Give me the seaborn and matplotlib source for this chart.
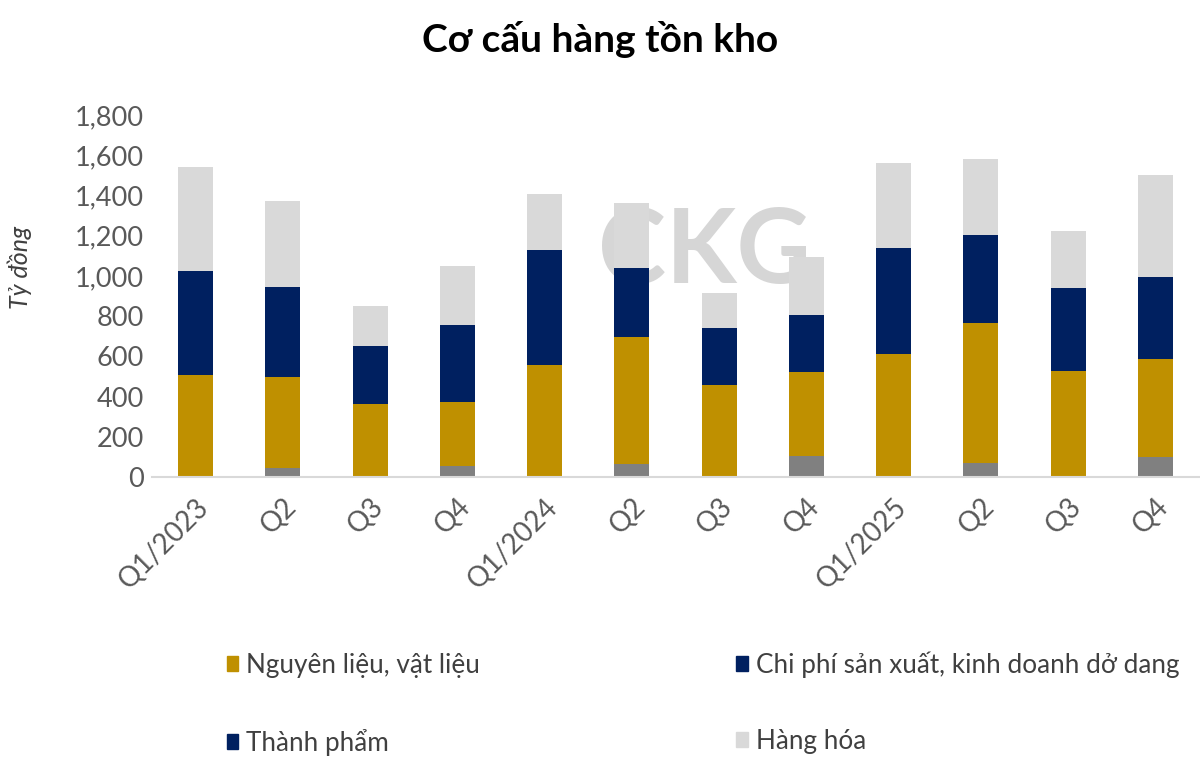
import matplotlib
matplotlib.use("Agg")
import matplotlib.pyplot as plt
from matplotlib.patches import Patch
import seaborn as sns
import pandas as pd

# Data (ty dong)
quarters = ["Q1/2023", "Q2/2023", "Q3/2023", "Q4/2023",
            "Q1/2024", "Q2/2024", "Q3/2024", "Q4/2024",
            "Q1/2025", "Q2/2025", "Q3/2025", "Q4/2025"]
tick_labels = ["Q1/2023", "Q2", "Q3", "Q4", "Q1/2024", "Q2", "Q3", "Q4",
               "Q1/2025", "Q2", "Q3", "Q4"]
chi_phi_sx = [0, 47, 0, 53, 0, 66, 0, 103, 0, 71, 0, 100]
nguyen_lieu = [507, 452, 361, 322, 557, 629, 457, 418, 610, 693, 527, 487]
thanh_pham = [517, 444, 292, 381, 570, 344, 284, 285, 529, 438, 411, 408]
hang_hoa = [519, 429, 199, 295, 279, 322, 174, 290, 421, 379, 285, 508]

df = pd.DataFrame({"quarter": quarters, "chi_phi": chi_phi_sx,
                   "nguyen_lieu": nguyen_lieu, "thanh_pham": thanh_pham,
                   "hang_hoa": hang_hoa})
# cumulative tops for stacking
df["top_gold"] = df["chi_phi"] + df["nguyen_lieu"]
df["top_navy"] = df["top_gold"] + df["thanh_pham"]
df["top_total"] = df["top_navy"] + df["hang_hoa"]

GOLD = "#BF9000"
NAVY = "#002060"
LIGHT = "#D9D9D9"
DARK = "#808080"
TXT = "#595959"

sns.set_theme(style="white")
plt.rcParams["font.family"] = ["Lato", "DejaVu Sans"]

fig = plt.figure(figsize=(12, 7.6), dpi=100)
ax = fig.add_axes([0.1267, 0.3724, 0.8725, 0.4763])

# watermark
ax.text(0.528, 0.62, "CKG", transform=ax.transAxes, fontsize=74, fontweight="bold",
        color="#D6D6D6", ha="center", va="center", zorder=0)

layers = [("top_total", LIGHT), ("top_navy", NAVY), ("top_gold", GOLD), ("chi_phi", DARK)]
for col, color in layers:
    sns.barplot(data=df, x="quarter", y=col, color=color, width=0.4,
                saturation=1, linewidth=0, ax=ax, zorder=2)

ax.set_ylim(0, 1800)
ax.set_xlim(-0.5, 11.5)
ax.set_yticks(range(0, 1801, 200))
ax.set_yticklabels([f"{v:,}" for v in range(0, 1801, 200)], fontsize=19.5, color=TXT)
ax.set_xticks(range(len(quarters)))
ax.set_xticklabels(tick_labels, rotation=45, ha="right", rotation_mode="anchor",
                   fontsize=20, color=TXT)
ax.tick_params(axis="both", length=0, pad=6)
ax.tick_params(axis="x", pad=12)
ax.set_xlabel("")
ax.set_ylabel("Tỷ đồng", fontsize=18, fontstyle="italic", color="#404040")
ax.yaxis.set_label_coords(-0.115, 0.58)
sns.despine(ax=ax, left=True)
ax.spines["bottom"].set_color(LIGHT)
ax.spines["bottom"].set_linewidth(1.5)

fig.suptitle("Cơ cấu hàng tồn kho", fontsize=28, fontweight="bold", color="black",
             x=0.5, y=0.972)

# column-major fill: col 1 = first two handles
handles = [Patch(color=GOLD, label="Nguyên liệu, vật liệu"),
           Patch(color=NAVY, label="Thành phẩm"),
           Patch(color=NAVY, label="Chi phí sản xuất, kinh doanh dở dang"),
           Patch(color=LIGHT, label="Hàng hóa")]
fig.legend(handles=handles, ncol=2, loc="center left", bbox_to_anchor=(0.178, 0.0743),
           frameon=False, fontsize=18.8, handlelength=0.45, handleheight=0.5,
           handletextpad=0.3, columnspacing=9.8, labelspacing=1.95, borderpad=0,
           labelcolor="#404040", bbox_transform=fig.transFigure)

fig.savefig("out.png", dpi=100)
